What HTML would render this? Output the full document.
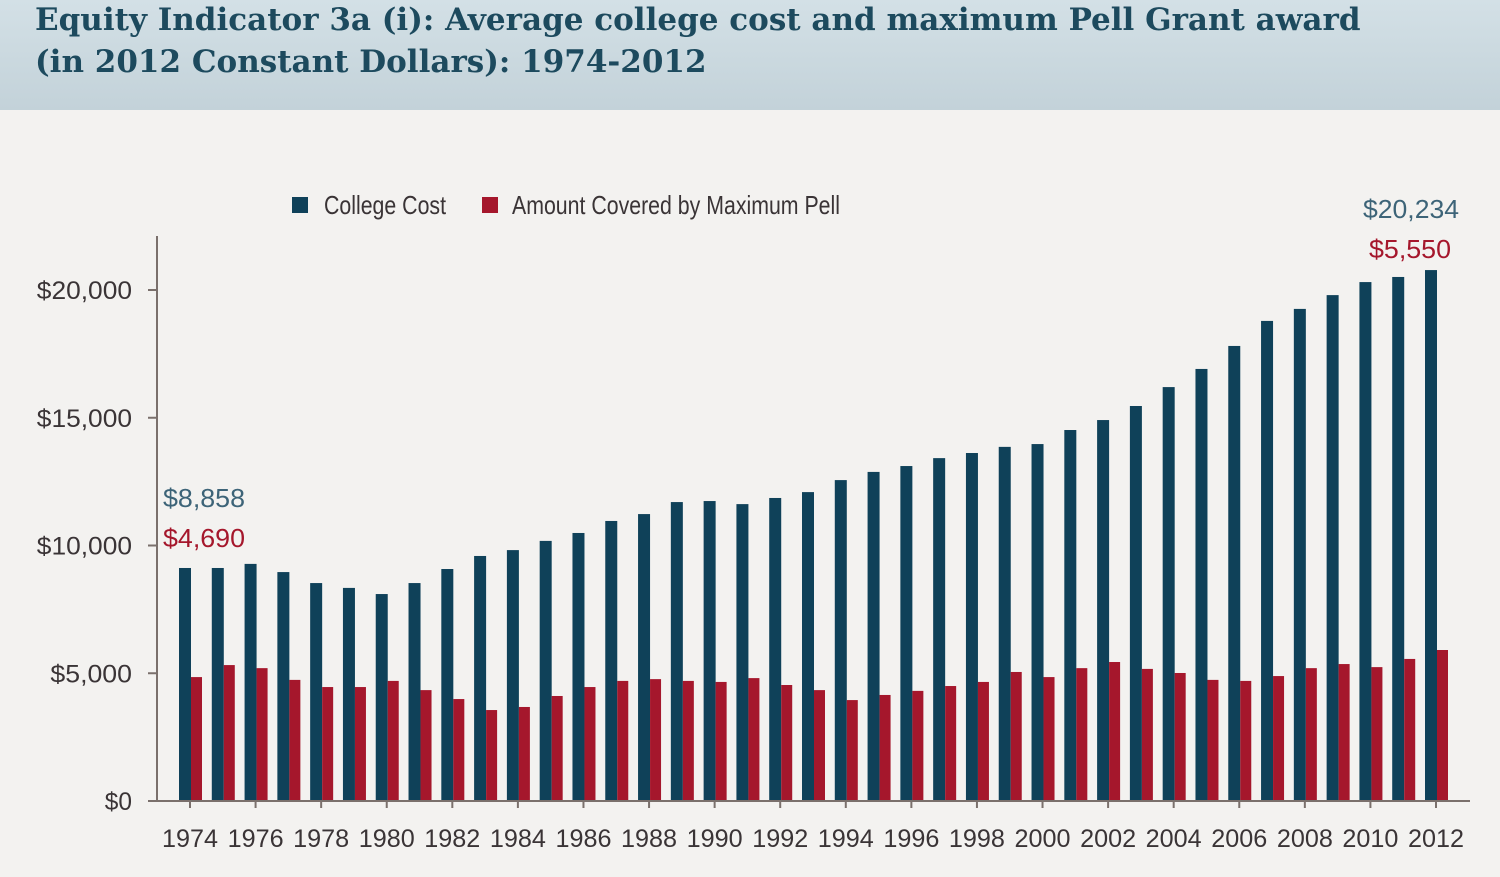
<!DOCTYPE html>
<html><head><meta charset="utf-8"><style>
body{margin:0;width:1500px;height:877px;overflow:hidden;background:#f3f2f0;font-family:"Liberation Sans",sans-serif}
#hdr{position:absolute;left:0;top:0;width:1500px;height:110px;background:linear-gradient(#d3e0e6,#c3d2d9)}
#hdr div{position:absolute;left:35px;font-family:"DejaVu Serif",serif;font-weight:bold;font-size:31px;color:#1d4a5e;white-space:nowrap}
svg{position:absolute;left:0;top:0}
</style></head><body>
<div id="hdr">
<div style="top:2px">Equity Indicator 3a (i): Average college cost and maximum Pell Grant award</div>
<div style="top:44px">(in 2012 Constant Dollars): 1974-2012</div>
</div>
<svg id="c" width="1500" height="877"></svg>
<script>
const years=[];for(let y=1974;y<=2012;y++)years.push(y);
const collegeCost=[9120,9120,9280,8960,8530,8340,8100,8530,9080,9590,9820,10180,10490,10960,11230,11700,11740,11620,11860,12090,12560,12880,13110,13420,13620,13860,13970,14520,14910,15460,16200,16910,17810,18790,19260,19800,20310,20510,20780];
const pellAmount=[4850,5320,5200,4740,4460,4460,4700,4340,3990,3560,3680,4110,4460,4700,4770,4700,4660,4810,4540,4340,3950,4150,4310,4500,4660,5050,4850,5200,5440,5170,5010,4740,4700,4890,5200,5360,5240,5560,5910];
const yTicks=[0,5000,10000,15000,20000];
const yTickLabels=["$0","$5,000","$10,000","$15,000","$20,000"];
const ns="http://www.w3.org/2000/svg",svg=document.getElementById('c');
const y0=801,pxPer=511/20000,x0=190,step=(1436-190)/38;
const Y=v=>y0-v*pxPer, X=i=>x0+i*step;
function mk(t,a,txt){const e=document.createElementNS(ns,t);for(const k in a)e.setAttribute(k,a[k]);if(txt!=null)e.textContent=txt;svg.appendChild(e);return e;}
const blue="#0f4159",red="#a5172c",ax="#7a706c";
years.forEach((yr,i)=>{
 let b=mk('rect',{x:X(i)-11,y:Y(collegeCost[i]),width:12,height:y0-Y(collegeCost[i]),fill:blue});
 
 
 let r=mk('rect',{x:X(i)+1,y:Y(pellAmount[i]),width:11,height:y0-Y(pellAmount[i]),fill:red});
 
 
 if(i%2==0){
  let t=mk('line',{x1:X(i),x2:X(i),y1:y0,y2:y0+7,stroke:ax,'stroke-width':2});
  
  
  let l=mk('text',{x:X(i),y:y0+46,'text-anchor':'middle','font-size':25,fill:'#3a3436',textLength:56,lengthAdjust:'spacingAndGlyphs'},yr);
  
  
 }
});
yTicks.forEach((v,i)=>{
 let t=mk('line',{x1:148,x2:157,y1:Y(v),y2:Y(v),stroke:ax,'stroke-width':2});
 
 
 let l=mk('text',{x:132,y:Y(v)+9,'text-anchor':'end','font-size':25,fill:'#3a3436',textLength:yTickLabels[i].length*13.6,lengthAdjust:'spacingAndGlyphs'},yTickLabels[i]);
 
 
});
let a1=mk('line',{x1:157,x2:157,y1:236,y2:802,stroke:ax,'stroke-width':2});

let a2=mk('line',{x1:148,x2:1470,y1:y0,y2:y0,stroke:ax,'stroke-width':2});

function lab(x,y,t,c,w,n){let e=mk('text',{x:x,y:y,'font-size':26,fill:c,textLength:w,lengthAdjust:'spacingAndGlyphs'},t);}
lab(163,507,"$8,858","#3d6478",82,'label-cost-1974');
lab(163,547,"$4,690",red,82,'label-pell-1974');
lab(1363,218,"$20,234","#3d6478",96,'label-cost-2012');
lab(1369,258,"$5,550",red,82,'label-pell-2012');
let s1=mk('rect',{x:292,y:197,width:16,height:16,fill:blue});
lab(324,214,"College Cost","#3a3436",122,'legend-college-cost');
let s2=mk('rect',{x:482,y:197,width:16,height:16,fill:red});
lab(512,214,"Amount Covered by Maximum Pell","#3a3436",328,'legend-pell');
</script>
</body></html>
